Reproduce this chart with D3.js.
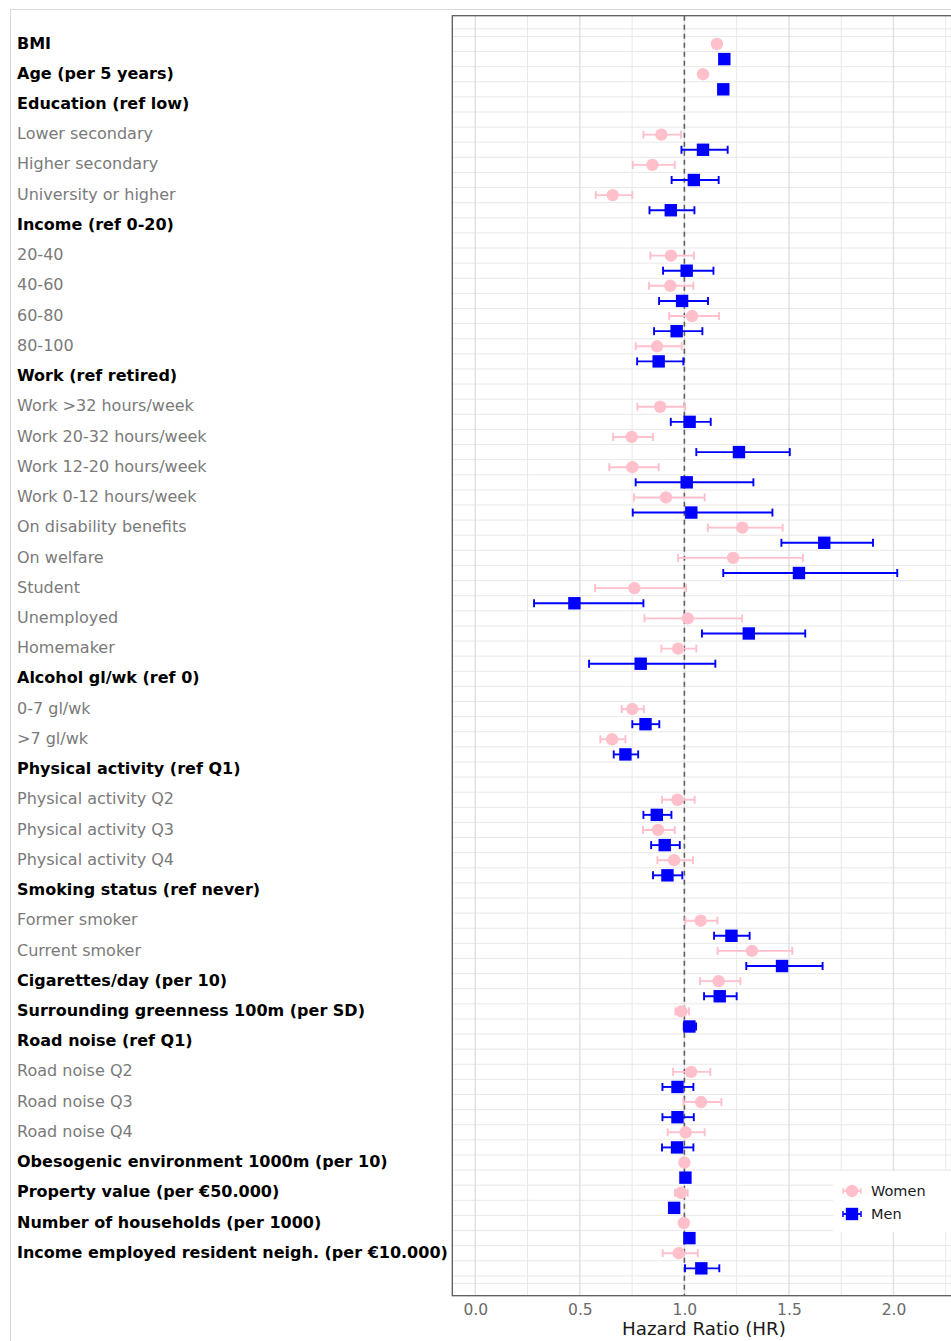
<!DOCTYPE html>
<html>
<head>
<meta charset="utf-8">
<script src="https://cdn.jsdelivr.net/npm/d3@7/dist/d3.min.js"></script>
<style>
  html, body { margin: 0; padding: 0; background: #fff; }
  svg { display: block; }
</style>
</head>
<body>
<svg id="chart" width="951" height="1341"></svg>
<script>
// ---------------- DATA ----------------
const categories = [
  "BMI", "Age (per 5 years)", "Education (ref low)", "Lower secondary", "Higher secondary",
  "University or higher", "Income (ref 0-20)", "20-40", "40-60", "60-80", "80-100",
  "Work (ref retired)", "Work >32 hours/week", "Work 20-32 hours/week", "Work 12-20 hours/week",
  "Work 0-12 hours/week", "On disability benefits", "On welfare", "Student", "Unemployed",
  "Homemaker", "Alcohol gl/wk (ref 0)", "0-7 gl/wk", ">7 gl/wk", "Physical activity (ref Q1)",
  "Physical activity Q2", "Physical activity Q3", "Physical activity Q4", "Smoking status (ref never)",
  "Former smoker", "Current smoker", "Cigarettes/day (per 10)", "Surrounding greenness 100m (per SD)",
  "Road noise (ref Q1)", "Road noise Q2", "Road noise Q3", "Road noise Q4",
  "Obesogenic environment 1000m (per 10)", "Property value (per €50.000)",
  "Number of households (per 1000)", "Income employed resident neigh. (per €10.000)"
];
const boldLabel = [
  1,1,1,0,0, 0,1,0,0,0,0, 1,0,0,0, 0,0,0,0,0, 0,1,0,0,1, 0,0,0,1, 0,0,1,1, 1,0,0,0, 1,1, 1,1
];
const womenHR = [1.156,1.089,null,0.890,0.847,0.657,null,0.936,0.933,1.037,0.869,null,0.884,0.748,0.751,0.912,1.277,1.233,0.761,1.016,0.970,null,0.751,0.654,null,0.967,0.874,0.951,null,1.078,1.323,1.164,0.986,null,1.032,1.080,1.006,1.000,0.984,0.997,0.973];
const womenLo = [1.147,1.080,null,0.804,0.753,0.576,null,0.837,0.831,0.927,0.767,null,0.775,0.659,0.641,0.759,1.112,0.970,0.573,0.809,0.890,null,0.700,0.598,null,0.893,0.802,0.871,null,1.005,1.159,1.075,0.957,null,0.946,0.995,0.920,0.990,0.955,0.988,0.896];
const womenHi = [1.165,1.098,null,0.984,0.954,0.751,null,1.046,1.043,1.166,0.987,null,1.003,0.850,0.877,1.097,1.470,1.567,1.008,1.276,1.057,null,0.806,0.718,null,1.049,0.954,1.041,null,1.158,1.516,1.268,1.022,null,1.124,1.177,1.097,1.010,1.016,1.006,1.064];
const menHR = [1.191,1.186,null,1.089,1.045,0.935,null,1.011,0.989,0.963,0.877,null,1.025,1.261,1.011,1.033,1.669,1.548,0.474,1.308,0.791,null,0.814,0.718,null,0.868,0.906,0.919,null,1.225,1.467,1.169,1.024,null,0.967,0.967,0.965,1.005,0.951,1.024,1.081];
const menLo = [1.182,1.176,null,0.986,0.939,0.833,null,0.898,0.879,0.855,0.774,null,0.935,1.057,0.767,0.753,1.464,1.186,0.281,1.084,0.544,null,0.751,0.662,null,0.804,0.841,0.850,null,1.142,1.296,1.094,0.997,null,0.895,0.895,0.893,0.995,0.940,1.015,1.003];
const menHi = [1.200,1.196,null,1.207,1.164,1.048,null,1.139,1.113,1.086,0.995,null,1.126,1.504,1.330,1.421,1.902,2.018,0.804,1.578,1.148,null,0.880,0.779,null,0.938,0.978,0.990,null,1.312,1.661,1.250,1.056,null,1.043,1.045,1.043,1.015,0.962,1.033,1.167];
const xTicks = [0, 0.5, 1, 1.5, 2];
const xMinor = [0.25, 0.75, 1.25, 1.75, 2.25];
const seriesNames = ["Women", "Men"];
const seriesColors = ["#FFC0CB", "#0000FF"];

// ---------------- LAYOUT ----------------
const svg = d3.select("#chart");
const W = 951, H = 1341;
const panel = { left: 452.3, top: 15.7, right: 956.2, bottom: 1295.7 };
const FONT = "'DejaVu Sans', 'Liberation Sans', sans-serif";

const x = d3.scaleLinear().domain([-0.11, 2.3]).range([panel.left, panel.right]);
// each category has two slots: women (2i) and men (2i+1)
const nSlots = categories.length * 2;
const y = d3.scaleLinear().domain([-1.87, nSlots + 0.81]).range([panel.top, panel.bottom]);

svg.append("rect").attr("width", W).attr("height", H).attr("fill", "#fff");

// outer light frame
svg.append("line").attr("x1", 10).attr("x2", W).attr("y1", 9.5).attr("y2", 9.5)
  .attr("stroke", "#d9d9d9").attr("stroke-width", 1);
svg.append("line").attr("x1", 10.5).attr("x2", 10.5).attr("y1", 9).attr("y2", H)
  .attr("stroke", "#d9d9d9").attr("stroke-width", 1);

// clip
svg.append("clipPath").attr("id", "pclip").append("rect")
  .attr("x", panel.left).attr("y", panel.top)
  .attr("width", panel.right - panel.left).attr("height", panel.bottom - panel.top);
const g = svg.append("g").attr("clip-path", "url(#pclip)");

// horizontal grid lines
const hLines = [-1, -0.5];
for (let s = 0; s < nSlots; s++) hLines.push(s + 0.5);
hLines.push(nSlots);
g.selectAll("line.hgrid").data(hLines).enter().append("line")
  .attr("class", "hgrid")
  .attr("x1", panel.left).attr("x2", panel.right)
  .attr("y1", d => y(d)).attr("y2", d => y(d))
  .attr("stroke", "#e8e8e8").attr("stroke-width", 1);

// vertical grid lines
g.selectAll("line.vminor").data(xMinor).enter().append("line")
  .attr("x1", d => x(d)).attr("x2", d => x(d))
  .attr("y1", panel.top).attr("y2", panel.bottom)
  .attr("stroke", "#e8e8e8").attr("stroke-width", 1);
g.selectAll("line.vmajor").data(xTicks).enter().append("line")
  .attr("x1", d => x(d)).attr("x2", d => x(d))
  .attr("y1", panel.top).attr("y2", panel.bottom)
  .attr("stroke", "#e0e0e0").attr("stroke-width", 1.4);

// reference line at 1
g.append("line").attr("x1", x(1)).attr("x2", x(1))
  .attr("y1", panel.top).attr("y2", panel.bottom)
  .attr("stroke", "#606060").attr("stroke-width", 1.6).attr("stroke-dasharray", "5,4");

// data points
const points = [];
categories.forEach((c, i) => {
  if (womenHR[i] != null) points.push({ s: 0, slot: 2 * i, hr: womenHR[i], lo: womenLo[i], hi: womenHi[i] });
  if (menHR[i] != null) points.push({ s: 1, slot: 2 * i + 1, hr: menHR[i], lo: menLo[i], hi: menHi[i] });
});

const cap = 4;
const eb = g.append("g").selectAll("g").data(points).enter().append("g")
  .attr("stroke", d => seriesColors[d.s]).attr("stroke-width", 1.9).attr("fill", "none");
eb.append("line").attr("x1", d => x(d.lo)).attr("x2", d => x(d.hi))
  .attr("y1", d => y(d.slot)).attr("y2", d => y(d.slot));
eb.append("line").attr("x1", d => x(d.lo)).attr("x2", d => x(d.lo))
  .attr("y1", d => y(d.slot) - cap).attr("y2", d => y(d.slot) + cap);
eb.append("line").attr("x1", d => x(d.hi)).attr("x2", d => x(d.hi))
  .attr("y1", d => y(d.slot) - cap).attr("y2", d => y(d.slot) + cap);

const sq = 12.4, rad = 6.2;
g.append("g").selectAll("circle").data(points.filter(d => d.s === 0)).enter().append("circle")
  .attr("cx", d => x(d.hr)).attr("cy", d => y(d.slot)).attr("r", rad)
  .attr("fill", seriesColors[0]);
g.append("g").selectAll("rect").data(points.filter(d => d.s === 1)).enter().append("rect")
  .attr("x", d => x(d.hr) - sq / 2).attr("y", d => y(d.slot) - sq / 2)
  .attr("width", sq).attr("height", sq).attr("fill", seriesColors[1]);

// panel border
svg.append("rect").attr("x", panel.left).attr("y", panel.top)
  .attr("width", panel.right - panel.left).attr("height", panel.bottom - panel.top)
  .attr("fill", "none").attr("stroke", "#5a5a5a").attr("stroke-width", 1.3);

// x axis
const xAxis = d3.axisBottom(x).tickValues(xTicks).tickFormat(d3.format(".1f")).tickSize(0).tickPadding(8);
const ax = svg.append("g").attr("transform", `translate(0,${panel.bottom})`).call(xAxis);
ax.select(".domain").remove();
ax.selectAll("text").attr("font-family", FONT).attr("font-size", 15.5).attr("fill", "#6b6b6b");

svg.append("text").attr("x", 704).attr("y", 1334.5).attr("text-anchor", "middle")
  .attr("font-family", FONT).attr("font-size", 18.3).attr("fill", "#1a1a1a")
  .text("Hazard Ratio (HR)");

// row labels
svg.append("g").selectAll("text").data(categories).enter().append("text")
  .attr("x", 17).attr("y", (d, i) => y(2 * i) + 4.6)
  .attr("font-family", FONT).attr("font-size", 16)
  .attr("font-weight", (d, i) => boldLabel[i] ? "bold" : "normal")
  .attr("fill", (d, i) => boldLabel[i] ? "#000" : "#7a7a7a")
  .text(d => d);

// legend
const lg = svg.append("g");
lg.append("rect").attr("x", 833).attr("y", 1171).attr("width", 130).attr("height", 61).attr("fill", "#fff");
const legY = [1191, 1214];
seriesNames.forEach((name, k) => {
  const yy = legY[k];
  lg.append("line").attr("x1", 843).attr("x2", 861).attr("y1", yy).attr("y2", yy)
    .attr("stroke", seriesColors[k]).attr("stroke-width", 1.9);
  lg.append("line").attr("x1", 843).attr("x2", 843).attr("y1", yy - 3).attr("y2", yy + 3)
    .attr("stroke", seriesColors[k]).attr("stroke-width", 1.5);
  lg.append("line").attr("x1", 861).attr("x2", 861).attr("y1", yy - 3).attr("y2", yy + 3)
    .attr("stroke", seriesColors[k]).attr("stroke-width", 1.5);
  if (k === 0) {
    lg.append("circle").attr("cx", 852).attr("cy", yy).attr("r", rad).attr("fill", seriesColors[k]);
  } else {
    lg.append("rect").attr("x", 852 - sq / 2).attr("y", yy - sq / 2).attr("width", sq).attr("height", sq)
      .attr("fill", seriesColors[k]);
  }
  lg.append("text").attr("x", 871).attr("y", yy + 5.2).attr("font-family", FONT).attr("font-size", 14.5)
    .attr("fill", "#1a1a1a").text(name);
});
</script>
</body>
</html>
